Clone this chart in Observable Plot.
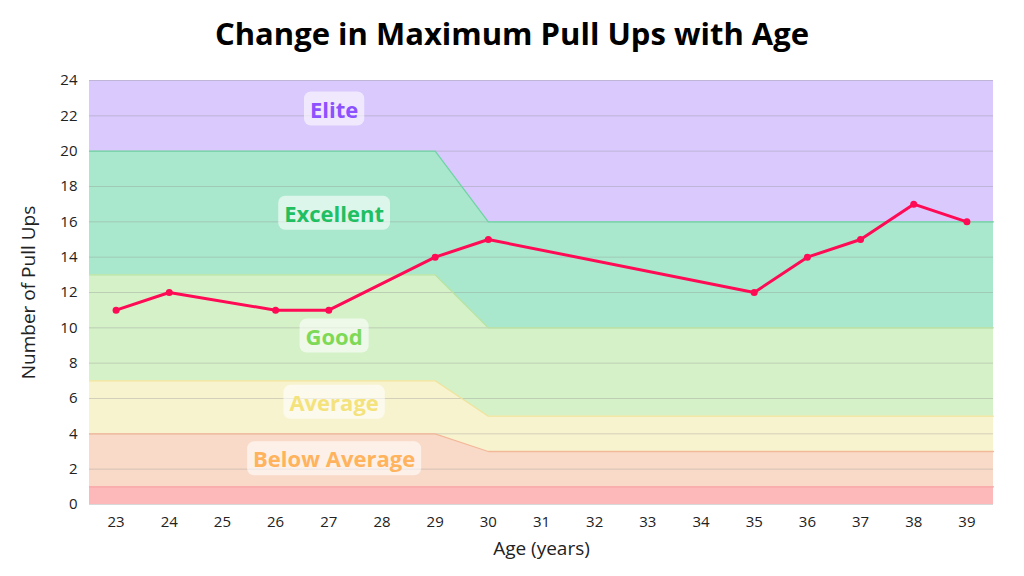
<!DOCTYPE html>
<html><head><meta charset="utf-8">
<script src="https://cdn.jsdelivr.net/npm/d3@7"></script>
<script src="https://cdn.jsdelivr.net/npm/@observablehq/plot@0.6"></script>
<style>
body{margin:0;background:#fff;font-family:"Open Sans",sans-serif;}
#title{height:60px;line-height:66px;text-align:center;font-weight:700;font-size:31px;color:#000;}
</style></head><body>
<div id="title">Change in Maximum Pull Ups with Age</div>
<div id="chart"></div>
<script>
const ages = [23,24,26,27,29,30,35,36,37,38,39];
const pullUps = [11,12,11,11,14,15,12,14,15,17,16];
const bandX = [22.5,29,30,39.5];
const redTop = [1,1,1,1];
const belowTop = [4,4,3,3];
const averageTop = [7,7,5,5];
const goodTop = [13,13,10,10];
const excellentTop = [20,20,16,16];
const eliteTop = [24,24,24,24];
const xTicks = d3.range(23,40);
const yTicks = d3.range(0,25,2);
const bandNames = ["Below Average","Average","Good","Excellent","Elite"];
const labelY = [2.5,5.7,9.45,16.4,22.3];
const labelX = 27.1;

const bandDefs = [
  {lo:null, hi:redTop, fill:"#fdb9b9", line:"#f7a3a3"},
  {lo:redTop, hi:belowTop, fill:"#f9dac8", line:"#f2b999"},
  {lo:belowTop, hi:averageTop, fill:"#f8f3cf", line:"#efe39b"},
  {lo:averageTop, hi:goodTop, fill:"#d5f1c8", line:"#b8e3a2"},
  {lo:goodTop, hi:excellentTop, fill:"#a9e8cd", line:"#6fd3a6"},
  {lo:excellentTop, hi:eliteTop, fill:"#d9c9fd", line:"#c5b0f7"}
];
const labelColors = ["#ffb35c","#f4e27c","#7ed957","#1fbf62","#8c52ff"];
const marks = [];
bandDefs.forEach(b=>{
  const data = bandX.map((x,i)=>({x, y1: b.lo? b.lo[i]:0, y2: b.hi[i]}));
  marks.push(Plot.areaY(data,{x:"x",y1:"y1",y2:"y2",fill:b.fill}));
});
marks.push(Plot.gridY(yTicks,{stroke:"#8f8f8f",strokeOpacity:0.35}));
bandDefs.slice(0,5).forEach(b=>{
  marks.push(Plot.lineY(bandX.map((x,i)=>({x,y:b.hi[i]})),{x:"x",y:"y",stroke:b.line,strokeWidth:1.3}));
});
const labels = bandNames.map((n,i)=>({n,y:labelY[i],c:labelColors[i]}));
marks.push(Plot.text(labels,{x:()=>labelX,y:"y",text:"n",fill:"c",fontSize:22,fontWeight:700,className:"bandlbl"}));
const pts = ages.map((a,i)=>({a,v:pullUps[i]}));
marks.push(Plot.line(pts,{x:"a",y:"v",stroke:"#ff0a54",strokeWidth:3}));
marks.push(Plot.dot(pts,{x:"a",y:"v",fill:"#ff0a54",r:3.5}));
marks.push(Plot.axisX(xTicks,{tickSize:0,fontSize:15,tickPadding:12,label:"Age (years)",labelAnchor:"center",labelOffset:50,labelArrow:"none"}));
marks.push(Plot.axisY(yTicks,{tickSize:0,fontSize:15,tickPadding:12,label:"Number of Pull Ups",labelAnchor:"center",labelOffset:68,labelArrow:"none"}));

const chart = Plot.plot({
  width:1024,height:516,marginTop:20,marginBottom:72,marginLeft:89,marginRight:31,
  x:{domain:[22.5,39.5]},y:{domain:[0,24]},
  style:{fontFamily:"Open Sans, sans-serif",color:"#222",fontSize:"15px"},
  marks
});
document.getElementById("chart").appendChild(chart);
d3.select(chart).selectAll("[aria-label='x-axis label'] text, [aria-label='y-axis label'] text").style("font-size","19px");
d3.select(chart).selectAll("g.bandlbl text").each(function(){
  const bb=this.getBBox();
  const ns="http://www.w3.org/2000/svg";
  const r=document.createElementNS(ns,"rect");
  r.setAttribute("x",bb.x-6);r.setAttribute("y",bb.y-2);
  r.setAttribute("width",bb.width+12);r.setAttribute("height",bb.height+4);
  r.setAttribute("rx",7);r.setAttribute("fill","white");r.setAttribute("fill-opacity","0.6");
  const t=this.getAttribute("transform");if(t) r.setAttribute("transform",t);
  this.parentNode.insertBefore(r,this);
});
</script></body></html>
